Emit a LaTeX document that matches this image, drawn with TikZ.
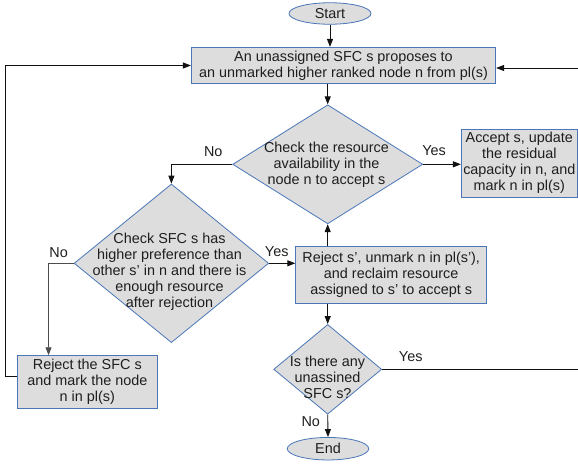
\documentclass[tikz,border=0pt]{standalone}
\usepackage{fontspec}
\setmainfont{Liberation Sans}
\usetikzlibrary{shapes.geometric,arrows.meta,calc}

\definecolor{boxfill}{HTML}{DDDDDD}
\definecolor{boxline}{HTML}{4A76B8}
\definecolor{ink}{HTML}{1E1E1E}
\definecolor{wire}{HTML}{111111}

\tikzset{
  txt/.style={font=\fontsize{14.4}{16}\selectfont, text=ink},
  procbox/.style={txt, rectangle, draw=boxline, fill=boxfill, line width=0.8pt,
    inner sep=0pt, align=center},
  terminal/.style={txt, ellipse, draw=boxline, fill=boxfill, line width=0.8pt,
    inner sep=0pt},
  decision/.style={diamond, draw=boxline, fill=boxfill, line width=0.8pt,
    inner sep=0pt},
  dtext/.style={txt, inner sep=0pt, align=center},
  lbl/.style={txt, inner sep=0pt},
  arr/.style={draw=wire, line width=0.9pt,
    -{Triangle[length=8pt,width=6pt]}},
}

\begin{document}
\begin{tikzpicture}[x=1pt,y=-1pt]
\useasboundingbox (0,0) rectangle (578,463);

% terminals
\node[terminal, minimum width=82pt, minimum height=21.5pt] (start) at (330,13.5) {Start};
\node[terminal, minimum width=81.5pt, minimum height=22.5pt] (end) at (328,448.7) {End};

% process boxes
\node[procbox, minimum width=304.4pt, minimum height=36.4pt] (top) at (343.5,65.5)
  {An unassigned SFC s proposes to\\an unmarked higher ranked node n from pl(s)};
\node[procbox, minimum width=116pt, minimum height=68.3pt] (acc) at (519.3,163.2)
  {Accept s, update\\the residual\\capacity in n, and\\mark n in pl(s)};
\node[procbox, minimum width=191pt, minimum height=56.6pt] (rej) at (391.2,275)
  {Reject s', unmark n in pl(s'),\\and reclaim resource\\assigned to s' to accept s};
\node[procbox, minimum width=140.7pt, minimum height=52.3pt] (rsfc) at (87.3,381.8)
  {Reject the SFC s\\and mark the node\\n in pl(s)};

% decisions
\node[decision, minimum width=190pt, minimum height=119pt] (d1) at (327.7,164.3) {};
\node[dtext] (d1t) at (326.5,164.6)
  {Check the resource\\availability in the\\node n to accept s};
\node[decision, minimum width=194.6pt, minimum height=158.6pt] (d2) at (171.4,263.3) {};
\node[dtext] (d2t) at (169.5,271.3)
  {Check SFC s has\\higher preference than\\other s' in n and there is\\enough resource\\after rejection};
\node[decision, minimum width=108pt, minimum height=89.7pt] (d3) at (327.7,369.3) {};
\node[dtext] (d3t) at (327.5,377.7)
  {Is there any\\unassined\\SFC s?};

% free turning points of the two loops
\coordinate (lft) at (5.7,200);
\coordinate (rgt) at (579.5,200);

% connectors
\draw[arr] (start.south) -- (start.south |- top.north);
\draw[arr] (d1.north |- top.south) -- (d1.north);
\draw[arr] (d1.east) -- (d1.east -| acc.west);
\draw[arr] (d1.west) -| (d2.north);
\draw[arr] (d2.east) -- (d2.east -| rej.west);
\draw[arr] (d1.south |- rej.north) -- (d1.south);
\draw[arr] (d3.north |- rej.south) -- (d3.north);
\draw[arr, draw=black!70] (d2.west) -| ($(rsfc.north west)+(32,0)$);
\draw[arr] (d3.south) -- (end.north);
\draw[arr] ($(rsfc.west)+(0,-5.8)$) -| (lft) |- (top.west);
\draw[arr] (d3.east) -| (rgt) |- ($(top.east)+(0,2.5)$);

% branch labels
\node[lbl] (n1) at (213.3,151.7) {No};
\node[lbl] (y1) at (434,150.5) {Yes};
\node[lbl] (n2) at (58.7,252.7) {No};
\node[lbl] (y2) at (276.7,252) {Yes};
\node[lbl] (y3) at (410.7,357) {Yes};
\node[lbl] (n3) at (310.7,421.7) {No};
\end{tikzpicture}
\end{document}
